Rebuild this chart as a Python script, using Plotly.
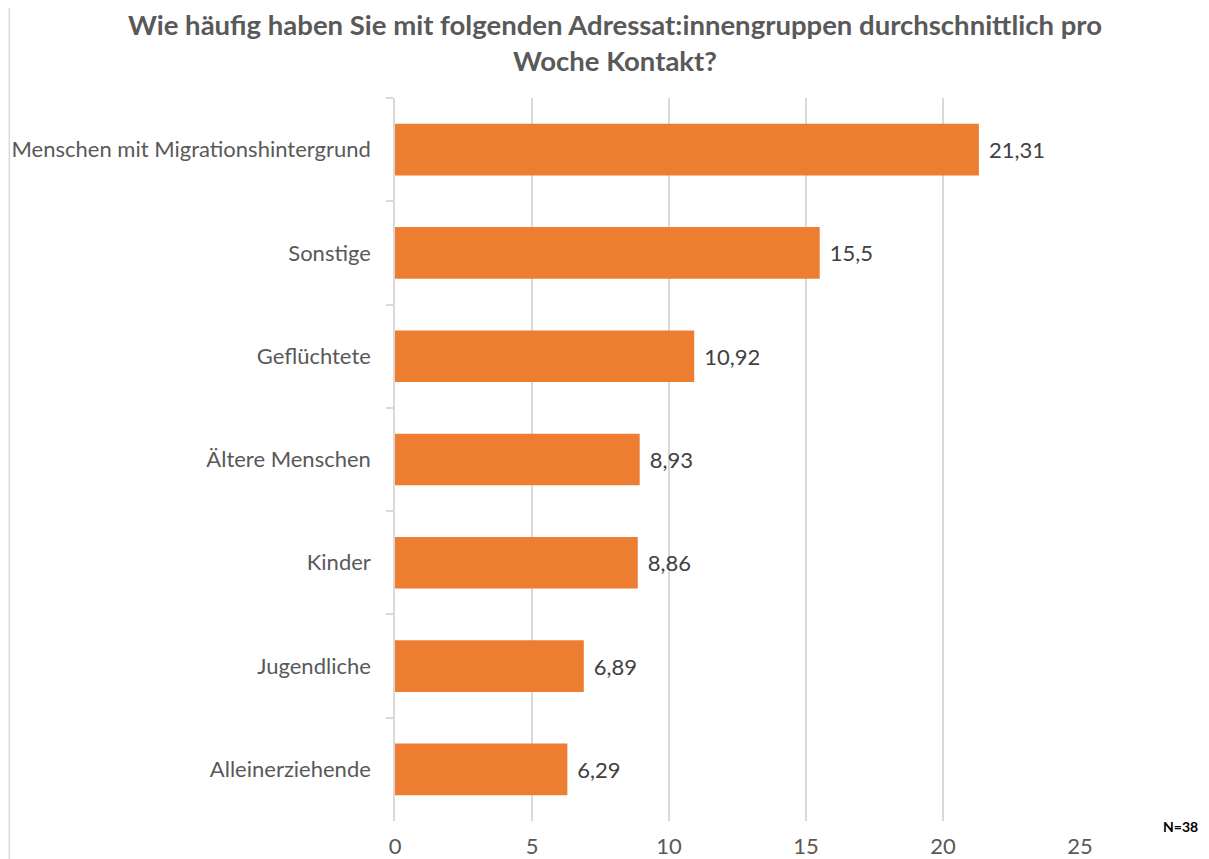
import plotly.graph_objects as go

categories = ["Menschen mit Migrationshintergrund", "Sonstige", "Geflüchtete",
              "Ältere Menschen", "Kinder", "Jugendliche", "Alleinerziehende"]
values = [21.31, 15.5, 10.92, 8.93, 8.86, 6.89, 6.29]
value_labels = ["21,31", "15,5", "10,92", "8,93", "8,86", "6,89", "6,29"]
x_ticks = [0, 5, 10, 15, 20, 25]

title_text = "Wie häufig haben Sie mit folgenden Adressat:innengruppen durchschnittlich pro<br>Woche Kontakt?"

font_family = "Lato, 'Open Sans', sans-serif"

fig = go.Figure(go.Bar(
    x=values, y=categories, orientation="h",
    marker=dict(color="#ED7D31", line=dict(width=0)),
    width=0.5,
    text=["\u00a0\u200a" + t for t in value_labels], textposition="outside",
    textfont=dict(size=22, color="#404040", family=font_family),
    cliponaxis=False,
))

fig.update_layout(
    width=1201, height=851,
    paper_bgcolor="white", plot_bgcolor="white",
    margin=dict(l=387, r=129, t=90, b=38),
    showlegend=False,
    xaxis=dict(range=[0, 25], tickvals=x_ticks, ticktext=[str(t) for t in x_ticks],
               showgrid=True, gridcolor="#D9D9D9", gridwidth=1.5,
               zeroline=False, showline=False, ticks="", automargin=False,
               ticklabelstandoff=10,
               tickfont=dict(size=22, color="#595959", family=font_family)),
    yaxis=dict(categoryorder="array", categoryarray=categories, autorange="reversed",
               showline=True, linecolor="#D9D9D9", linewidth=1.5, automargin=False,
               ticks="outside", tickson="boundaries", ticklen=7, tickcolor="#D9D9D9", tickwidth=1.5,
               ticklabelstandoff=18,
               tickfont=dict(size=22, color="#595959", family=font_family)),
)

fig.add_annotation(text=f"<b>{title_text}</b>", xref="paper", yref="paper", x=0.321, y=1.077,
                   xanchor="center", yanchor="middle", showarrow=False,
                   font=dict(size=27.5, color="#595959", family=font_family))

fig.add_shape(type="line", xref="paper", yref="paper", x0=-0.563, x1=-0.563, y0=-0.06, y1=1.16,
              line=dict(color="#D9D9D9", width=1.5))

fig.add_annotation(text="<b>N=38</b>", xref="paper", yref="paper", x=1.175, y=-0.008,
                   xanchor="right", yanchor="middle", showarrow=False,
                   font=dict(size=14, color="#000000", family=font_family))

fig.write_html("out.html")
